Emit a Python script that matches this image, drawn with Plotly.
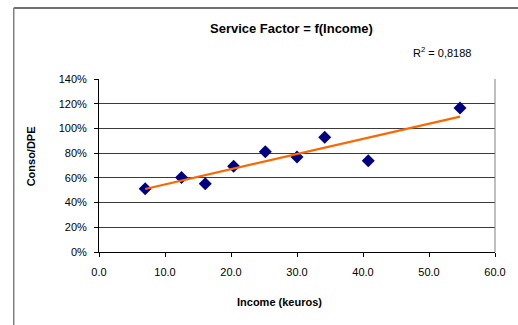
import numpy as np
import plotly.graph_objects as go

# Income (keuros) and consumption / DPE ratio (%)
income = [7.0, 12.5, 16.1, 20.4, 25.2, 30.0, 34.2, 40.8, 54.7]
conso_dpe = [51.2, 60.2, 55.3, 69.4, 81.2, 76.9, 92.9, 73.9, 116.6]
r2_label = "R<sup>2</sup> = 0,8188"
x_ticks = [0, 10, 20, 30, 40, 50, 60]
y_ticks = [0, 20, 40, 60, 80, 100, 120, 140]

# Linear trend line fitted on the observations
slope, intercept = np.polyfit(income, conso_dpe, 1)
trend_x = [min(income), max(income)]
trend_y = [slope * x + intercept for x in trend_x]

FONT = "Liberation Sans, Arial, sans-serif"

fig = go.Figure()
fig.add_trace(go.Scatter(
    x=income, y=conso_dpe, mode="markers",
    marker=dict(symbol="diamond", size=10, color="#000080",
                line=dict(width=0)),
    showlegend=False, hoverinfo="skip",
))
fig.add_trace(go.Scatter(
    x=trend_x, y=trend_y, mode="lines",
    line=dict(color="#FF6600", width=2.2),
    showlegend=False, hoverinfo="skip",
))

fig.update_layout(
    width=518, height=325,
    margin=dict(l=99, r=15, t=79, b=73),
    paper_bgcolor="white", plot_bgcolor="white",
    font=dict(family=FONT, size=11, color="#000000"),
    xaxis=dict(
        range=[0, 60], tickvals=x_ticks,
        ticktext=[f"{v:.1f}" for v in x_ticks],
        showgrid=False, zeroline=False,
        showline=True, linecolor="#000000", linewidth=1,
        ticks="outside", ticklen=4, tickcolor="#000000",
        ticklabelstandoff=6,
        tickfont=dict(size=11), fixedrange=True,
    ),
    yaxis=dict(
        range=[0, 140], tickvals=y_ticks,
        ticktext=[f"{v}%" for v in y_ticks],
        showgrid=True, gridcolor="#3a3a3a", gridwidth=1,
        zeroline=False,
        showline=True, linecolor="#000000", linewidth=1,
        ticks="outside", ticklen=4, tickcolor="#000000",
        ticklabelstandoff=5,
        tickfont=dict(size=11), fixedrange=True,
    ),
    shapes=[
        # right edge of the plot area
        dict(type="line", xref="paper", yref="paper",
             x0=1, x1=1, y0=0, y1=1,
             line=dict(color="#808080", width=1)),
        # chart frame (top and left edges)
        dict(type="line", xref="paper", yref="paper",
             x0=-0.2153, x1=1.1, y0=1.4104, y1=1.4104,
             line=dict(color="#404040", width=1.5)),
        dict(type="line", xref="paper", yref="paper",
             x0=-0.2153, x1=-0.2153, y0=-0.5, y1=1.4104,
             line=dict(color="#808080", width=1.5)),
    ],
    annotations=[
        dict(text="<b>Service Factor = f(Income)</b>",
             xref="paper", yref="paper",
             x=(295 - 99) / 404, y=(252 - 28) / 173,
             xanchor="center", yanchor="middle", showarrow=False,
             font=dict(size=13)),
        dict(text=r2_label, xref="paper", yref="paper",
             x=(449 - 99) / 404, y=(252 - 52) / 173,
             xanchor="center", yanchor="middle", showarrow=False,
             font=dict(size=11)),
        dict(text="<b>Conso/DPE</b>", xref="paper", yref="paper",
             x=(30 - 99) / 404, y=(252 - 156) / 173,
             xanchor="center", yanchor="middle", showarrow=False,
             textangle=-90, font=dict(size=11)),
        dict(text="<b>Income (keuros)</b>", xref="paper", yref="paper",
             x=(283 - 99) / 404, y=(252 - 302) / 173,
             xanchor="center", yanchor="middle", showarrow=False,
             font=dict(size=11)),
    ],
)

fig.write_html("out.html", config=dict(displayModeBar=False))
